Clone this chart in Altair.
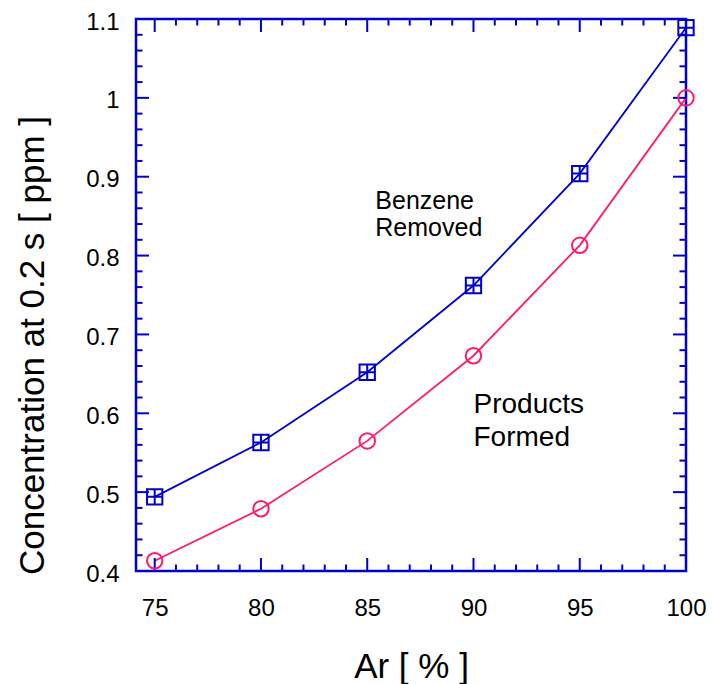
import altair as alt
import pandas as pd

# ---- data ----
ar = [75, 80, 85, 90, 95, 100]
benzene_removed = [0.494, 0.563, 0.652, 0.762, 0.904, 1.089]
products_formed = [0.413, 0.479, 0.565, 0.673, 0.813, 1.000]

x_major = [75, 80, 85, 90, 95, 100]
x_minor = [76, 77, 78, 79, 81, 82, 83, 84, 86, 87, 88, 89, 91, 92, 93, 94, 96, 97, 98, 99]
y_major = [0.4, 0.5, 0.6, 0.7, 0.8, 0.9, 1.0, 1.1]
y_minor = [0.42, 0.44, 0.46, 0.48, 0.52, 0.54, 0.56, 0.58, 0.62, 0.64, 0.66, 0.68,
           0.72, 0.74, 0.76, 0.78, 0.82, 0.84, 0.86, 0.88, 0.92, 0.94, 0.96, 0.98,
           1.02, 1.04, 1.06, 1.08]

label_text = ["Benzene\nRemoved", "Products\nFormed"]
label_x = [85.38, 90.0]
label_y = [0.859, 0.600]

# ---- styling ----
BLUE = "#0000cc"
PINK = "#ff1a6b"
FONT = "Liberation Sans"
W, H = 550, 552
MAJ, MIN = 13, 6.5

x_scale = alt.Scale(domain=[74.12, 100], nice=False, zero=False)
y_scale = alt.Scale(domain=[0.4, 1.1], nice=False, zero=False)

df = pd.DataFrame({"ar": ar, "benzene": benzene_removed, "products": products_formed})

x_axis = alt.Axis(values=x_major, format="d", ticks=False, domain=False, grid=False,
                  labelFlush=False,
                  labelFont=FONT, labelFontSize=24, labelColor="black", labelPadding=25,
                  title="Ar [ % ]", titleFont=FONT, titleFontSize=35, titleFontWeight="normal",
                  titleColor="black", titleY=106, titleBaseline="alphabetic")
y_axis = alt.Axis(values=y_major, format="~g", ticks=False, domain=False, grid=False,
                  labelFlush=False,
                  labelFont=FONT, labelFontSize=24, labelColor="black", labelPadding=17,
                  labelOffset=3,
                  title="Concentration at 0.2 s [ ppm ]", titleFont=FONT, titleFontSize=35,
                  titleFontWeight="normal", titleColor="black", titleAngle=270,
                  titleX=-93, titleY=326, titleAlign="center", titleBaseline="alphabetic")


def X(field):
    return alt.X(field, scale=x_scale, axis=x_axis)


def Y(field):
    return alt.Y(field, scale=y_scale, axis=y_axis)


benz_line = alt.Chart(df).mark_line(color=BLUE, strokeWidth=1.8).encode(
    x=X("ar:Q"), y=Y("benzene:Q"))
prod_line = alt.Chart(df).mark_line(color=PINK, strokeWidth=1.8).encode(
    x=X("ar:Q"), y=Y("products:Q"))
square_plus = "M-1,-1L1,-1L1,1L-1,1Z M0,-1L0,1 M-1,0L1,0"
benz_pts = alt.Chart(df).mark_point(shape=square_plus, filled=False, color=BLUE,
                                    size=235, strokeWidth=2, opacity=1).encode(
    x=X("ar:Q"), y=Y("benzene:Q"))
prod_pts = alt.Chart(df).mark_point(shape="circle", filled=False, color=PINK,
                                    size=240, strokeWidth=2, opacity=1).encode(
    x=X("ar:Q"), y=Y("products:Q"))

# ---- inward ticks on all four sides ----
xmaj = pd.DataFrame({"v": x_major})
xmin = pd.DataFrame({"v": x_minor})
ymaj = pd.DataFrame({"v": y_major})
ymin = pd.DataFrame({"v": y_minor})


def xticks(d, length):
    bottom = alt.Chart(d).mark_rule(color=BLUE, strokeWidth=2).encode(
        x=X("v:Q"), y=alt.value(H), y2=alt.value(H - length))
    top = alt.Chart(d).mark_rule(color=BLUE, strokeWidth=2).encode(
        x=X("v:Q"), y=alt.value(0), y2=alt.value(length))
    return [bottom, top]


def yticks(d, length):
    left = alt.Chart(d).mark_rule(color=BLUE, strokeWidth=2).encode(
        y=Y("v:Q"), x=alt.value(0), x2=alt.value(length))
    right = alt.Chart(d).mark_rule(color=BLUE, strokeWidth=2).encode(
        y=Y("v:Q"), x=alt.value(W), x2=alt.value(W - length))
    return [left, right]


ticks = xticks(xmaj, MAJ) + xticks(xmin, MIN) + yticks(ymaj, MAJ) + yticks(ymin, MIN)

# ---- annotations ----
lab = pd.DataFrame({"t": label_text, "x": label_x, "y": label_y})
benz_text = alt.Chart(lab.iloc[[0]]).mark_text(
    align="left", baseline="alphabetic", lineBreak="\n", lineHeight=27,
    font=FONT, fontSize=25, color="black").encode(
    x=X("x:Q"), y=Y("y:Q"), text="t:N")
prod_text = alt.Chart(lab.iloc[[1]]).mark_text(
    align="left", baseline="alphabetic", lineBreak="\n", lineHeight=33,
    font=FONT, fontSize=28, color="black").encode(
    x=X("x:Q"), y=Y("y:Q"), text="t:N")

chart = alt.layer(
    benz_line, prod_line, *ticks, benz_pts, prod_pts, benz_text, prod_text
).properties(
    width=W, height=H,
    autosize=alt.AutoSizeParams(type="none"),
    padding={"left": 136, "top": 19, "right": 27, "bottom": 113},
    background="white",
).configure_view(stroke=BLUE, strokeWidth=2.5)

chart.save("out.html", embed_options={"renderer": "svg", "actions": False})
